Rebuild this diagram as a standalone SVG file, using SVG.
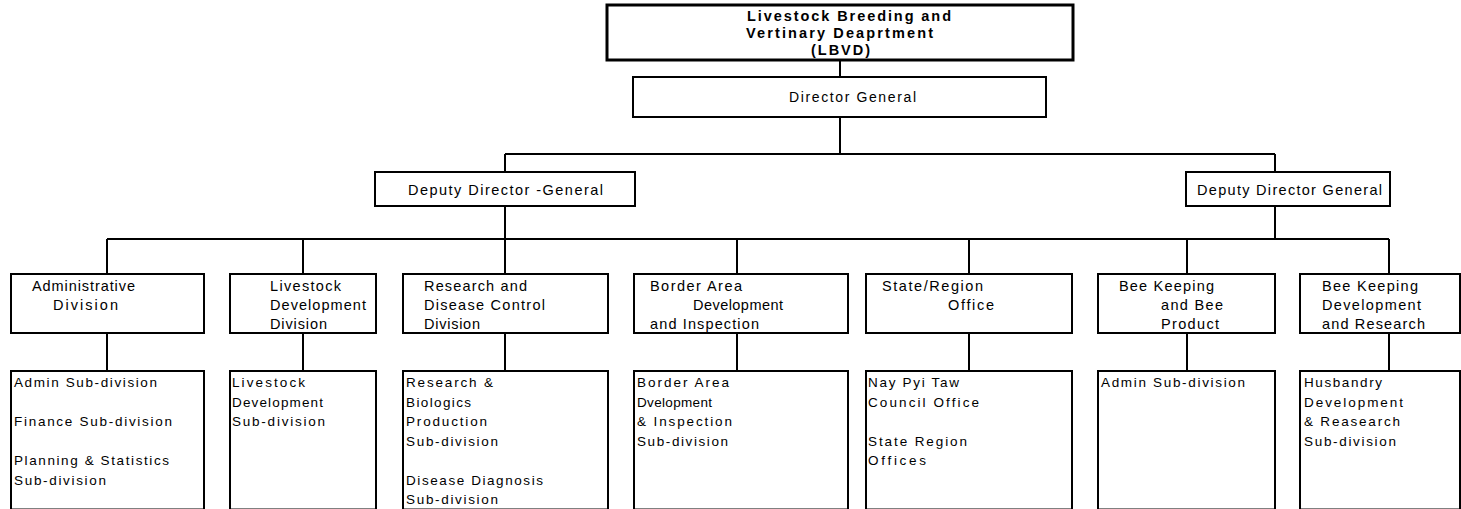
<svg xmlns="http://www.w3.org/2000/svg" width="1461" height="509" viewBox="0 0 1461 509">
<style>
.bg{fill:#fff}
.box{fill:#fff;stroke:#000;stroke-width:2}
.tbox{fill:#fff;stroke:#000;stroke-width:3}
.c{stroke:#000;stroke-width:2;fill:none}
text{font-family:"Liberation Sans",Arial,sans-serif;fill:#000}
.b{font-size:14.5px;font-weight:bold}
.u{font-size:14.5px}
.l{font-size:13.5px}
.d{font-size:14px}
</style>
<rect class="bg" x="0" y="0" width="1461" height="509"/>
<g id="connectors">
<path class="c" d="M840,60 V77 M840,117 V154 M505,154 H1275 M505,154 V172 M1275,154 V172 M505,206 V274 M1275,206 V239 M107,239 H1389"/>
<path class="c" d="M107,239 V274 M303,239 V274 M737,239 V274 M969,239 V274 M1187,239 V274 M1389,239 V274"/>
<path class="c" d="M107,333 V371 M303,333 V371 M505,333 V371 M737,333 V371 M969,333 V371 M1187,333 V371 M1389,333 V371"/>
</g>
<g id="lbvd">
<rect class="tbox" x="607" y="5" width="466" height="55"/>
<text class="b" x="747" y="20.5" textLength="204" lengthAdjust="spacing">Livestock Breeding and</text>
<text class="b" x="746" y="37.5" textLength="187" lengthAdjust="spacing">Vertinary Deaprtment</text>
<text class="b" x="811" y="55" textLength="59" lengthAdjust="spacing">(LBVD)</text>
</g>
<g id="director-general">
<rect class="box" x="633" y="77" width="413" height="40"/>
<text class="d" x="789" y="102" textLength="127" lengthAdjust="spacing">Director General</text>
</g>
<g id="ddg-left">
<rect class="box" x="375" y="172" width="260" height="34"/>
<text class="u" x="408" y="195" textLength="195" lengthAdjust="spacing">Deputy Director -General</text>
</g>
<g id="ddg-right">
<rect class="box" x="1186" y="172" width="204" height="34"/>
<text class="u" x="1197" y="195" textLength="185" lengthAdjust="spacing">Deputy Director General</text>
</g>
<g id="admin-division">
<rect class="box" x="11" y="274" width="193" height="59"/>
<text class="u" x="32" y="291" textLength="103" lengthAdjust="spacing">Administrative</text>
<text class="u" x="53" y="310" textLength="65" lengthAdjust="spacing">Division</text>
</g>
<g id="livestock-division">
<rect class="box" x="230" y="274" width="146" height="59"/>
<text class="u" x="270" y="291" textLength="71" lengthAdjust="spacing">Livestock</text>
<text class="u" x="270" y="310" textLength="96" lengthAdjust="spacing">Development</text>
<text class="u" x="270" y="329" textLength="57" lengthAdjust="spacing">Division</text>
</g>
<g id="research-division">
<rect class="box" x="403" y="274" width="205" height="59"/>
<text class="u" x="424" y="291" textLength="103" lengthAdjust="spacing">Research and</text>
<text class="u" x="424" y="310" textLength="121" lengthAdjust="spacing">Disease Control</text>
<text class="u" x="424" y="329" textLength="56" lengthAdjust="spacing">Division</text>
</g>
<g id="border-division">
<rect class="box" x="634" y="274" width="214" height="59"/>
<text class="u" x="650" y="291" textLength="92" lengthAdjust="spacing">Border Area</text>
<text class="u" x="693" y="310" textLength="90" lengthAdjust="spacing">Development</text>
<text class="u" x="650" y="329" textLength="109" lengthAdjust="spacing">and Inspection</text>
</g>
<g id="state-office">
<rect class="box" x="866" y="274" width="206" height="59"/>
<text class="u" x="882" y="291" textLength="101" lengthAdjust="spacing">State/Region</text>
<text class="u" x="948" y="310" textLength="46" lengthAdjust="spacing">Office</text>
</g>
<g id="bee-product">
<rect class="box" x="1098" y="274" width="177" height="59"/>
<text class="u" x="1119" y="291" textLength="95" lengthAdjust="spacing">Bee Keeping</text>
<text class="u" x="1161" y="310" textLength="62" lengthAdjust="spacing">and Bee</text>
<text class="u" x="1161" y="329" textLength="58" lengthAdjust="spacing">Product</text>
</g>
<g id="bee-research">
<rect class="box" x="1300" y="274" width="160" height="59"/>
<text class="u" x="1322" y="291" textLength="96" lengthAdjust="spacing">Bee Keeping</text>
<text class="u" x="1322" y="310" textLength="99" lengthAdjust="spacing">Development</text>
<text class="u" x="1322" y="329" textLength="103" lengthAdjust="spacing">and Research</text>
</g>
<g id="admin-subs">
<rect class="box" x="11" y="371" width="193" height="138.5"/>
<text class="l" x="14" y="387" textLength="143" lengthAdjust="spacing">Admin Sub-division</text>
<text class="l" x="14" y="426" textLength="158" lengthAdjust="spacing">Finance Sub-division</text>
<text class="l" x="14" y="465" textLength="155" lengthAdjust="spacing">Planning &amp; Statistics</text>
<text class="l" x="14" y="484.5" textLength="92" lengthAdjust="spacing">Sub-division</text>
</g>
<g id="livestock-subs">
<rect class="box" x="230" y="371" width="146" height="138.5"/>
<text class="l" x="232" y="387" textLength="73" lengthAdjust="spacing">Livestock</text>
<text class="l" x="232" y="406.5" textLength="91" lengthAdjust="spacing">Development</text>
<text class="l" x="232" y="426" textLength="93" lengthAdjust="spacing">Sub-division</text>
</g>
<g id="research-subs">
<rect class="box" x="403" y="371" width="205" height="138.5"/>
<text class="l" x="406" y="387" textLength="87" lengthAdjust="spacing">Research &amp;</text>
<text class="l" x="406" y="406.5" textLength="65" lengthAdjust="spacing">Biologics</text>
<text class="l" x="406" y="426" textLength="81" lengthAdjust="spacing">Production</text>
<text class="l" x="406" y="445.5" textLength="92" lengthAdjust="spacing">Sub-division</text>
<text class="l" x="406" y="484.5" textLength="137" lengthAdjust="spacing">Disease Diagnosis</text>
<text class="l" x="406" y="504" textLength="92" lengthAdjust="spacing">Sub-division</text>
</g>
<g id="border-subs">
<rect class="box" x="634" y="371" width="214" height="138.5"/>
<text class="l" x="637" y="387" textLength="92" lengthAdjust="spacing">Border Area</text>
<text class="l" x="637" y="406.5" textLength="75" lengthAdjust="spacing">Dvelopment</text>
<text class="l" x="637" y="426" textLength="95" lengthAdjust="spacing">&amp; Inspection</text>
<text class="l" x="637" y="445.5" textLength="91" lengthAdjust="spacing">Sub-division</text>
</g>
<g id="state-subs">
<rect class="box" x="866" y="371" width="206" height="138.5"/>
<text class="l" x="868" y="387" textLength="91" lengthAdjust="spacing">Nay Pyi Taw</text>
<text class="l" x="868" y="406.5" textLength="111" lengthAdjust="spacing">Council Office</text>
<text class="l" x="868" y="445.5" textLength="99" lengthAdjust="spacing">State Region</text>
<text class="l" x="868" y="465" textLength="58" lengthAdjust="spacing">Offices</text>
</g>
<g id="bee-product-subs">
<rect class="box" x="1098" y="371" width="177" height="138.5"/>
<text class="l" x="1101" y="387" textLength="144" lengthAdjust="spacing">Admin Sub-division</text>
</g>
<g id="bee-research-subs">
<rect class="box" x="1300" y="371" width="160" height="138.5"/>
<text class="l" x="1304" y="387" textLength="78" lengthAdjust="spacing">Husbandry</text>
<text class="l" x="1304" y="406.5" textLength="99" lengthAdjust="spacing">Development</text>
<text class="l" x="1304" y="426" textLength="96" lengthAdjust="spacing">&amp; Reasearch</text>
<text class="l" x="1304" y="445.5" textLength="92" lengthAdjust="spacing">Sub-division</text>
</g>
</svg>
